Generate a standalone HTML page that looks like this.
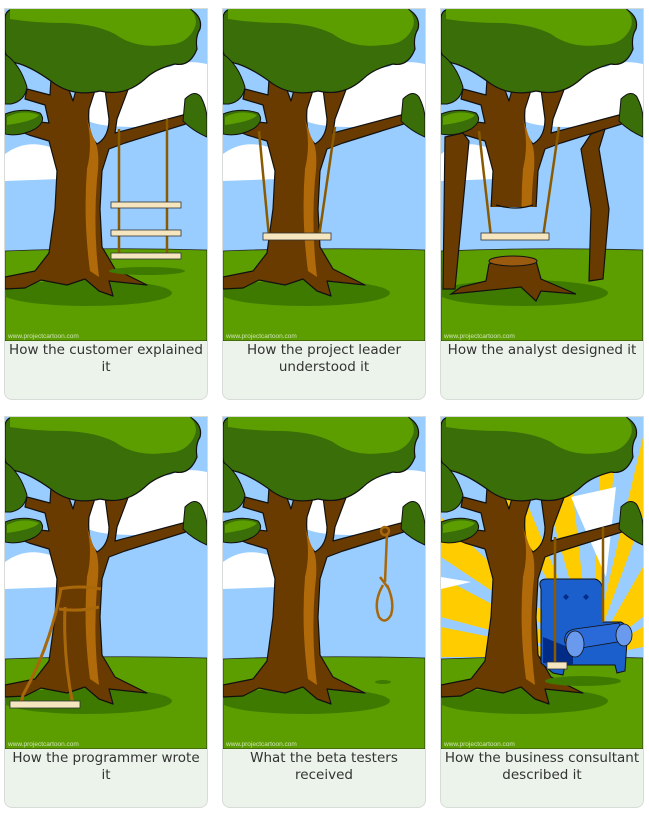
<!DOCTYPE html>
<html><head><meta charset="utf-8"><style>
html,body{margin:0;padding:0;background:#fff;width:649px;height:813px;overflow:hidden}
.p{position:absolute;width:202px;height:390px;border:1px solid #d8dcd8;border-radius:0 0 8px 8px;background:#ebf3ea;box-sizing:content-box}
.p svg{display:block;width:202px;height:332px}
.c{font-family:"DejaVu Sans","Liberation Sans",sans-serif;font-size:13.5px;color:#333;text-align:center;line-height:17px;padding-top:1px}
</style></head><body>
<svg width="0" height="0" style="position:absolute">
<defs>
<symbol id="bg" viewBox="0 0 202 332">
<rect width="202" height="332" fill="#99ccff"/>
<path d="M80,85 Q130,60 165,58 Q180,50 202,55 L202,115 L130,118 Q90,118 80,110 Z" fill="#fff"/>
<path d="M0,145 Q20,130 45,138 Q60,145 55,170 L0,172 Z" fill="#fff"/>
</symbol>
<symbol id="ground" viewBox="0 0 202 332">
<path d="M0,242 Q100,238 202,241 L202,332 L0,332 Z" fill="#5c9e00" stroke="#222" stroke-width="0.8"/>
<ellipse cx="82" cy="284" rx="85" ry="13" fill="#3f7a00"/>
<text x="3" y="329" font-family="Liberation Sans,sans-serif" font-size="6.5" fill="#cfe3b8">www.projectcartoon.com</text>
</symbol>
<symbol id="trunk" viewBox="0 0 202 332">
<path d="M46,70 L60,70 L68,92 L74,70 L93,72 L84,100 Q82,125 92,135 Q104,128 104,110 L100,80 L124,78 L112,110 L110,124 L178,106 L184,114 L120,134 L104,140 L97,162 L95,200 L97,238 L110,260 L142,276 L104,272 L108,287 L94,282 L80,270 L62,276 L36,271 L20,279 L0,280 L0,268 L30,262 L44,244 L50,200 L52,162 L44,132 L24,126 L4,118 L4,106 L26,112 L44,114 L40,96 L20,90 L22,80 L45,86 Z" fill="#6a3b00" stroke="#111" stroke-width="1.2" stroke-linejoin="round"/>
<path d="M82,110 Q88,135 82,160 Q78,210 85,262 L94,268 Q88,220 92,170 Q96,140 88,128 Z" fill="#b06a0a"/>
</symbol>
<symbol id="canopy" viewBox="0 0 202 332">
<path d="M0,10 Q0,0 10,0 L185,0 Q198,8 195,20 Q190,28 192,40 Q185,58 170,55 Q150,60 140,70 Q120,88 95,82 Q70,88 50,75 Q30,60 15,55 Q0,52 0,40 Z" fill="#3a6e08" stroke="#111" stroke-width="1.2"/>
<path d="M5,0 L185,0 Q195,10 188,22 Q180,36 160,36 Q130,40 110,25 Q90,15 60,14 Q30,14 5,10 Z" fill="#5c9e00"/>
<path d="M0,45 Q15,55 22,78 Q20,92 6,95 L0,95 Z" fill="#3a6e08" stroke="#111" stroke-width="1"/>
<path d="M0,105 Q18,98 35,104 Q42,112 30,120 Q15,128 0,125 Z" fill="#3a6e08" stroke="#111" stroke-width="1"/>
<path d="M2,108 Q18,100 34,106 Q30,112 2,116 Z" fill="#5c9e00"/>
<path d="M180,90 Q190,80 196,88 Q202,100 202,110 L202,128 Q188,122 178,112 Z" fill="#3a6e08" stroke="#111" stroke-width="1"/>
</symbol>
</defs></svg>

<!-- Panel 1 -->
<div class="p" style="left:4px;top:8px"><svg viewBox="0 0 202 332">
<use href="#bg"/><use href="#ground"/><use href="#trunk"/><use href="#canopy"/>
<ellipse cx="142" cy="262" rx="38" ry="4" fill="#3f7a00"/>
<g stroke="#8a5a00" stroke-width="2.5" fill="none"><path d="M114,120 L114,250"/><path d="M162,110 L162,250"/></g>
<g fill="#f5e6c0" stroke="#333" stroke-width="0.8"><rect x="106" y="193" width="70" height="6"/><rect x="106" y="221" width="70" height="6"/><rect x="106" y="244" width="70" height="6"/></g>
</svg><div class="c">How the customer explained<br>it</div></div>

<!-- Panel 2 -->
<div class="p" style="left:222px;top:8px"><svg viewBox="0 0 202 332">
<use href="#bg"/><use href="#ground"/><use href="#trunk"/><use href="#canopy"/>
<g stroke="#8a5a00" stroke-width="2.5" fill="none"><path d="M36,122 L46,228"/><path d="M112,118 L96,228"/></g>
<rect x="40" y="224" width="68" height="7" fill="#f5e6c0" stroke="#333" stroke-width="0.8"/>
</svg><div class="c">How the project leader<br>understood it</div></div>

<!-- Panel 3 -->
<div class="p" style="left:440px;top:8px"><svg viewBox="0 0 202 332">
<use href="#bg"/><use href="#ground"/>
<svg viewBox="0 0 202 332" width="202" height="332"><clipPath id="cl"><rect width="202" height="198"/></clipPath><use href="#trunk" clip-path="url(#cl)"/></svg>
<path d="M55,196 Q75,202 92,196" fill="none" stroke="#111" stroke-width="1.2"/>
<path d="M48,255 Q70,245 95,252 L100,270 L135,285 L100,282 L95,292 L80,278 L40,282 L10,285 L20,278 L45,272 Z" fill="#6a3b00" stroke="#111" stroke-width="1.2"/>
<ellipse cx="72" cy="252" rx="24" ry="5" fill="#9a5a10" stroke="#111" stroke-width="1"/>
<path d="M4,128 L22,124 L28,132 L14,280 L2,280 Z" fill="#6a3b00" stroke="#111" stroke-width="1.2"/>
<path d="M150,125 L164,120 L158,140 L168,200 L162,270 L148,272 L150,200 L140,140 Z" fill="#6a3b00" stroke="#111" stroke-width="1.2"/>
<use href="#canopy"/>
<g stroke="#8a5a00" stroke-width="2.5" fill="none"><path d="M38,122 L50,228"/><path d="M118,118 L102,228"/></g>
<rect x="40" y="224" width="68" height="7" fill="#f5e6c0" stroke="#333" stroke-width="0.8"/>
</svg><div class="c">How the analyst designed it</div></div>

<!-- Panel 4 -->
<div class="p" style="left:4px;top:416px"><svg viewBox="0 0 202 332">
<use href="#bg"/><use href="#ground"/><use href="#trunk"/><use href="#canopy"/>
<g stroke="#a8680a" stroke-width="3" fill="none"><path d="M54,172 Q75,168 96,172"/><path d="M54,192 Q75,195 94,190"/><path d="M56,172 Q45,230 18,278 L16,286"/><path d="M60,190 Q58,240 68,288"/></g>
<rect x="5" y="284" width="70" height="7" fill="#f5e6c0" stroke="#333" stroke-width="0.8"/>
</svg><div class="c">How the programmer wrote<br>it</div></div>

<!-- Panel 5 -->
<div class="p" style="left:222px;top:416px"><svg viewBox="0 0 202 332">
<use href="#bg"/><use href="#ground"/><use href="#trunk"/><use href="#canopy"/>
<ellipse cx="160" cy="265" rx="8" ry="2" fill="#3f7a00"/>
<g stroke="#a8680a" stroke-width="2.5" fill="none"><circle cx="162" cy="114" r="4"/><path d="M164,116 L162,165"/><path d="M160,168 Q150,185 156,200 Q162,208 168,198 Q172,185 164,168"/><path d="M157,160 L166,172"/></g>
</svg><div class="c">What the beta testers<br>received</div></div>

<!-- Panel 6 -->
<div class="p" style="left:440px;top:416px"><svg viewBox="0 0 202 332">
<rect width="202" height="332" fill="#99ccff"/>
<g fill="#ffcc00"><path d="M150,240 L202,20 L202,100 Z"/><path d="M150,240 L202,150 L202,200 Z"/><path d="M150,240 L0,160 L0,200 Z"/><path d="M150,240 L0,210 L0,240 Z"/><path d="M150,240 L100,60 L130,60 Z"/><path d="M150,240 L60,80 L80,72 Z"/><path d="M150,240 L160,40 L175,40 Z"/><path d="M150,240 L0,100 L0,140 Z"/><path d="M150,240 L202,210 L202,230 Z"/></g>
<path d="M130,80 L175,70 L165,160 Z" fill="#fff"/>
<path d="M0,160 L30,165 L0,172 Z" fill="#fff"/>
<use href="#ground"/><use href="#trunk"/><use href="#canopy"/>
<ellipse cx="142" cy="264" rx="38" ry="5" fill="#3f7a00"/>
<path d="M100,172 Q96,162 106,162 L154,162 Q162,164 162,176 L162,205 L180,205 Q190,210 186,224 L184,254 L176,256 L174,248 L124,248 L122,258 L112,256 L100,246 Z" fill="#1a5fcc" stroke="#111" stroke-width="1"/>
<path d="M102,220 L132,232 L132,248 L102,246 Z" fill="#002c88"/>
<path d="M124,226 Q122,214 134,212 L178,206 L182,224 L134,232 Z" fill="#2a6ad8" stroke="#111" stroke-width="0.8"/>
<ellipse cx="134" cy="227" rx="9" ry="13" fill="#6a9aee" stroke="#111" stroke-width="0.8"/>
<ellipse cx="183" cy="218" rx="8" ry="11" fill="#6a9aee" stroke="#111" stroke-width="0.8"/>
<g fill="#002c88"><path d="M122,180 l3,-3 3,3 -3,3z"/><path d="M142,180 l3,-3 3,3 -3,3z"/></g>
<g stroke="#8a5a00" stroke-width="2.5" fill="none"><path d="M114,120 L114,250"/><path d="M162,110 L162,205"/></g>
<rect x="106" y="245" width="20" height="7" fill="#f5e6c0" stroke="#333" stroke-width="0.8"/>
</svg><div class="c">How the business consultant<br>described it</div></div>
</body></html>
